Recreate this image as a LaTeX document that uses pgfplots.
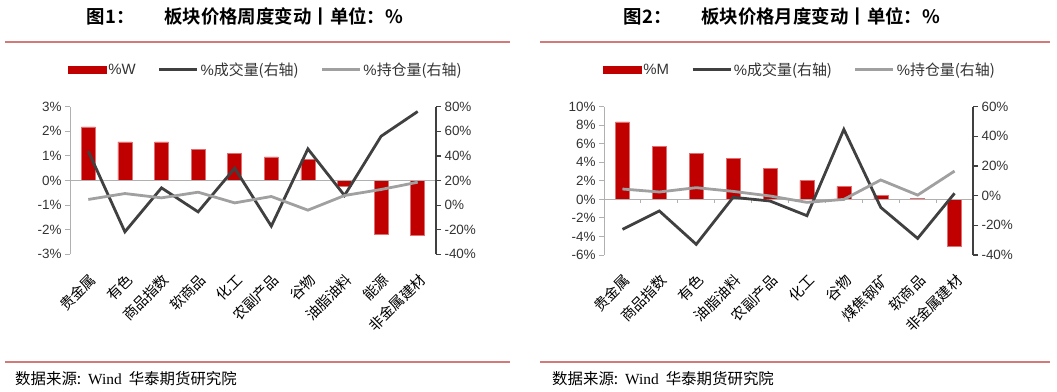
\documentclass[border=0pt]{standalone}
\usepackage{pgfplots}
\usepackage{pgfplotstable}
\pgfplotsset{compat=1.18}
\usepackage{fontspec}
\setmainfont{Liberation Sans}
\newfontfamily\cjk{Noto Sans CJK SC}
\newfontfamily\cjkb{Noto Sans CJK SC Bold}
\newfontfamily\serifl{Liberation Serif}
\definecolor{barred}{HTML}{C00000}
\definecolor{baredge}{HTML}{E07070}
\definecolor{darkline}{HTML}{404040}
\definecolor{lightline}{HTML}{A0A0A0}
\definecolor{axgray}{HTML}{B0B0B0}
\definecolor{txt}{HTML}{333333}
\definecolor{rulered}{HTML}{D27A7A}

\pgfplotstableread{
x W vol oi
0 2.18 43.8 4.6
1 1.57 -21.7 9.4
2 1.57 14.0 5.9
3 1.27 -5.5 10.5
4 1.10 30.0 1.8
5 0.96 -17.1 7.0
6 0.85 45.7 -4.1
7 -0.23 7.8 7.8
8 -2.18 56.0 12.7
9 -2.24 76.1 18.6
}\tabA
\pgfplotstableread{
x M vol oi
0 8.35 -22.7 4.5
1 5.76 -10.3 2.5
2 4.96 -32.8 5.4
3 4.46 -1.1 2.9
4 3.35 -3.6 -0.2
5 2.05 -13.5 -4.5
6 1.40 44.7 -2.5
7 0.43 -7.9 10.6
8 0.10 -28.8 0.4
9 -5.10 1.6 16.6
}\tabB

\pgfplotsset{
  baseax/.style={scale only axis, xmin=-0.5, xmax=9.5, clip=false,
    tick align=outside, major tick length=5bp,
    /pgf/number format/assume math mode=true,
    yticklabel={\pgfmathprintnumber{\tick}\%},
    yticklabel style={font=\fontsize{13.5}{14}\selectfont, text=txt},
  },
  leftax/.style={baseax, axis y line*=left, axis x line*=bottom,
    x axis line style={draw=none}, xtick={0,...,9}, major x tick style={draw=none},
    y axis line style={draw=axgray, line width=0.9bp},
    major y tick style={draw=axgray, line width=0.9bp},
    xticklabel style={font=\cjk\fontsize{14.5}{15}\selectfont, rotate=45, anchor=east, text=black, inner sep=1bp, yshift=-16bp, xshift=-8bp},
  },
  rightax/.style={baseax, axis y line*=right, axis x line=none,
    y axis line style={draw=darkline, line width=1.2bp},
    major y tick style={draw=darkline, line width=1.2bp},
    legend columns=3,
    legend style={draw=none, fill=none, font=\fontsize{15}{15}\selectfont, text=txt,
      anchor=center, inner sep=0pt,
      /tikz/every even column/.append style={column sep=20bp}},
  },
  barleg/.style={legend image code/.code={\fill[barred] (0bp,-3.5bp) rectangle (38bp,3.5bp);}},
  lineleg/.style={legend image code/.code={\draw[##1] (0bp,0bp) -- (38bp,0bp);}},
}

\begin{document}
\begin{tikzpicture}
\path[use as bounding box] (0,0) rectangle (1057bp,-392bp);

% ---------- Panel 1 ----------
\node[font=\cjkb\fontsize{18.5}{19}\selectfont] at (245bp,-16bp) {图1：\hspace{1.6em}板块价格周度变动丨单位：\%};
\draw[rulered, line width=2bp] (5bp,-42bp) -- (510bp,-42bp);
\draw[rulered, line width=2bp] (5bp,-362bp) -- (510bp,-362bp);
\node[anchor=west, font=\cjk\fontsize{15.5}{16}\selectfont, inner sep=0pt] at (15bp,-379bp) {数据来源:\ \ {\serifl Wind}\ \ 华泰期货研究院};

\begin{axis}[leftax, at={(70bp,-254.3bp)}, anchor=south west, width=366bp, height=147.6bp,
  ymin=-3, ymax=3, ytick={-3,-2,...,3},
  xticklabels={贵金属,有色,商品指数,软商品,化工,农副产品,谷物,油脂油料,能源,非金属建材}]
\addplot[ybar, bar width=14bp, fill=barred, draw=baredge, line width=0.5bp] table[x=x,y=W] {\tabA};
\draw[axgray, line width=1bp] (axis cs:-0.5,0) -- (axis cs:9.5,0);
\end{axis}
\begin{axis}[rightax, at={(70bp,-254.3bp)}, anchor=south west, width=366bp, height=147.6bp,
  ymin=-40, ymax=80, ytick={-40,-20,...,80},
  legend style={at={(0.535,1.25)}}]
\addlegendimage{barleg}
\addlegendentry{\%W}
\addplot[darkline, line width=2.8bp, lineleg] table[x=x,y=vol] {\tabA};
\addlegendentry{\%{\cjk 成交量(右轴)}}
\addplot[lightline, line width=2.8bp, lineleg] table[x=x,y=oi] {\tabA};
\addlegendentry{\%{\cjk 持仓量(右轴)}}
\end{axis}

% ---------- Panel 2 ----------
\node[font=\cjkb\fontsize{18.5}{19}\selectfont] at (782bp,-16bp) {图2：\hspace{1.6em}板块价格月度变动丨单位：\%};
\draw[rulered, line width=2bp] (540bp,-42bp) -- (1050bp,-42bp);
\draw[rulered, line width=2bp] (540bp,-362bp) -- (1050bp,-362bp);
\node[anchor=west, font=\cjk\fontsize{15.5}{16}\selectfont, inner sep=0pt] at (552bp,-379bp) {数据来源:\ \ {\serifl Wind}\ \ 华泰期货研究院};

\begin{axis}[leftax, at={(604bp,-255bp)}, anchor=south west, width=369bp, height=148.3bp,
  ymin=-6, ymax=10, ytick={-6,-4,...,10},
  xticklabels={贵金属,商品指数,有色,油脂油料,农副产品,化工,谷物,煤焦钢矿,软商品,非金属建材}]
\addplot[ybar, bar width=14bp, fill=barred, draw=baredge, line width=0.5bp] table[x=x,y=M] {\tabB};
\draw[axgray, line width=1bp] (axis cs:-0.5,0) -- (axis cs:9.5,0);
\pgfplotsinvokeforeach{0.5,1.5,2.5,3.5,4.5,5.5,6.5,7.5,8.5}{\draw[axgray, line width=1bp] (axis cs:#1,0) -- ++(0bp,-4bp);}
\end{axis}
\begin{axis}[rightax, at={(604bp,-255bp)}, anchor=south west, width=369bp, height=148.3bp,
  ymin=-40, ymax=60, ytick={-40,-20,...,60},
  legend style={at={(0.531,1.25)}}]
\addlegendimage{barleg}
\addlegendentry{\%M}
\addplot[darkline, line width=2.8bp, lineleg] table[x=x,y=vol] {\tabB};
\addlegendentry{\%{\cjk 成交量(右轴)}}
\addplot[lightline, line width=2.8bp, lineleg] table[x=x,y=oi] {\tabB};
\addlegendentry{\%{\cjk 持仓量(右轴)}}
\end{axis}
\end{tikzpicture}
\end{document}
